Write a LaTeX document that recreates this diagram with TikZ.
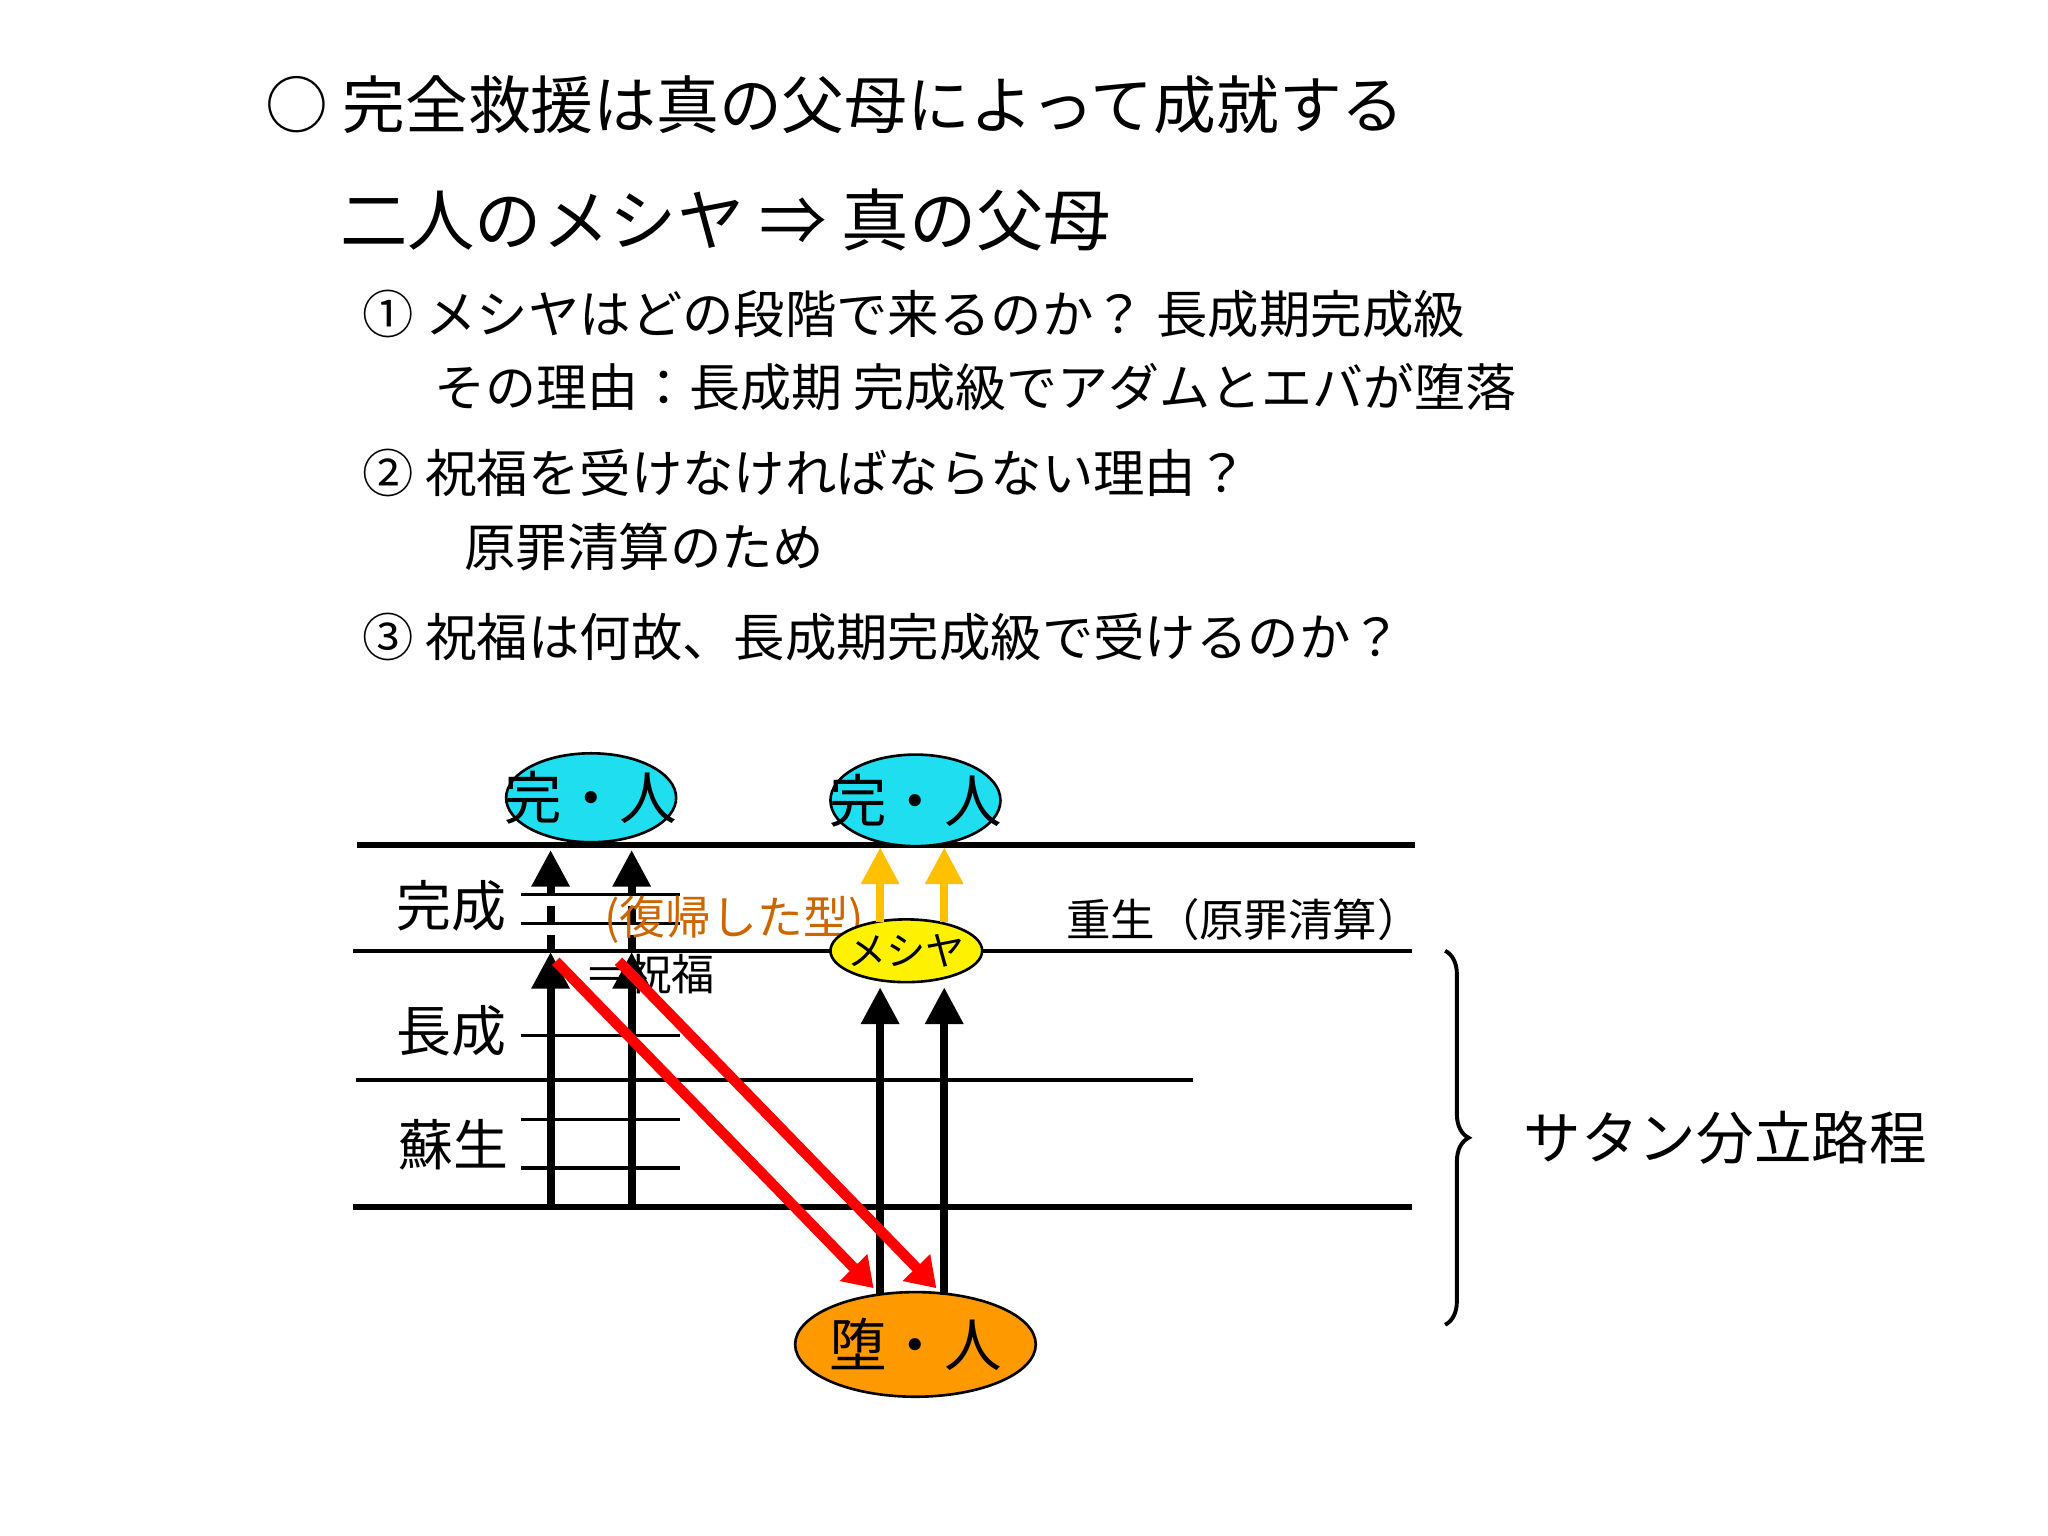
\documentclass[tikz,border=0pt]{standalone}
\usepackage{fontspec}
\setmainfont{Noto Sans CJK JP}
\usetikzlibrary{decorations.pathreplacing,arrows.meta,shapes.geometric}
\definecolor{cy}{RGB}{30,222,240}
\definecolor{orf}{RGB}{255,153,0}
\definecolor{brn}{RGB}{204,102,0}
\definecolor{gold}{RGB}{255,192,0}
\tikzset{
 fs/.style={font=\fontsize{#1}{#1}\selectfont},
 txt/.style={anchor=west,inner sep=0},
 lev/.style={line width=3pt},
 tick/.style={line width=2.6pt},
 bar/.style={line width=6pt,-{Triangle[length=28pt,width=28pt]}},
 oval/.style={ellipse,draw,line width=2pt,inner sep=0},
}
\begin{document}
\begin{tikzpicture}[x=1pt,y=-1pt]
\useasboundingbox (0,0) rectangle (1566,1174.5);
\node[txt,fs=48] (t1) at (203,80) {○ 完全救援は真の父母によって成就する};
\node[txt,fs=51.5] (t2) at (260,168) {二人のメシヤ ⇒ 真の父母};
\node[txt,fs=39.3] (t3) at (277,240) {① メシヤはどの段階で来るのか？ 長成期完成級};
\node[txt,fs=39] (t4) at (332,296) {その理由：長成期 完成級でアダムとエバが堕落};
\node[txt,fs=39.3] (t5) at (277,362) {② 祝福を受けなければならない理由？};
\node[txt,fs=39.3] (t6) at (355,418) {原罪清算のため};
\node[txt,fs=39.3] (t7) at (277,487) {③ 祝福は何故、長成期完成級で受けるのか？};
% levels
\draw[lev,line width=4.5pt] (273,646) coordinate (a1) -- (1082,646) coordinate (a2);
\draw[lev] (270,727) coordinate (b1) -- (1080,727) coordinate (b2);
\draw[lev] (272,826) coordinate (c1) -- (912,826) coordinate (c2);
\draw[lev,line width=4.5pt] (270,923) coordinate (d1) -- (1080,923) coordinate (d2);
\foreach \y in {684,706,792,856,893} \draw[tick] (398,\y) -- (520,\y);
\node[fs=42] (kansei) at (345,693) {完成};
\node[fs=42] (chousei) at (345,788) {長成};
\node[fs=42] (sosei) at (347,875) {蘇生};
% left arrows
\foreach \x in {421,483}{
 \draw[bar] (\x,923) -- (\x,728);
 \draw[line width=6pt,dash pattern=on 12pt off 10pt] (\x,727) -- (\x,680);
 \draw[bar] (\x,682) -- (\x,650);
}
\node[txt,fs=35,text=brn] (fk) at (462,703) {(復帰した型)};
\node[txt,fs=33] (sh) at (447,745) {＝祝福};
\node[txt,fs=34] (js) at (815,703) {重生（原罪清算）};
% ellipses
\node[oval,fill=cy,minimum width=130pt,minimum height=68pt] (k1) at (452,610) {};
\node[fs=44] (k1t) at (k1) {完・人};
\node[oval,fill=cy,minimum width=130pt,minimum height=70pt] (k2) at (700,612) {};
\node[fs=44] (k2t) at (k2) {完・人};
\node[oval,fill=yellow,minimum width=116pt,minimum height=48pt] (m) at (693,727) {};
\node[fs=30] (mt) at (m) {メシヤ};
\node[oval,fill=orf,minimum width=184pt,minimum height=80pt] (d) at (700,1028) {};
\node[fs=44] (dt) at (d) {堕・人};
% right arrows
\foreach \x in {673,722}{
 \draw[bar] (\x,990) -- (\x,755);
 \draw[line width=6pt,draw=gold,-{Triangle[length=28pt,width=28pt]}] (\x,705) -- (\x,648);
}
% red arrows
\draw[line width=8pt,red,-{Triangle[length=22pt,width=28pt]}] (425,735) -- (668,985);
\draw[line width=8pt,red,-{Triangle[length=22pt,width=28pt]}] (473,735) -- (716,985);
% brace
\draw[line width=3pt,decorate,decoration={brace,amplitude=18pt}] (1105,727) -- (1105,1013);
\node[txt,fs=44] (sb) at (1165,870) {サタン分立路程};
\end{tikzpicture}
\end{document}
